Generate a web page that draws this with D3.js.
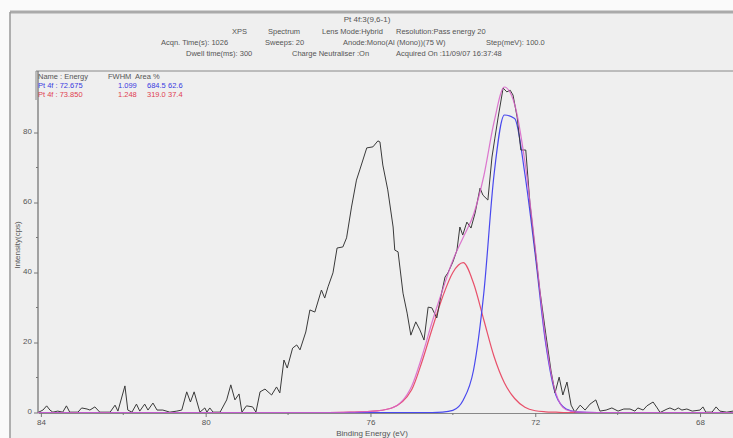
<!DOCTYPE html>
<html>
<head>
<meta charset="utf-8">
<script src="https://cdn.jsdelivr.net/npm/d3@7"></script>
<style>
  body { margin: 0; background: #fafafa; }
  text { font-family: "Liberation Sans", "DejaVu Sans", sans-serif; fill: #555; }
</style>
</head>
<body>
<div id="xps-plot"></div>
<script>
// measured spectrum (binding energy in eV, counts)
const spectrumEnergy = [84.07, 83.95, 83.86, 83.78, 83.71, 83.59, 83.47, 83.38, 83.30, 83.10,
  83.01, 82.88, 82.81, 82.69, 82.57, 82.32, 82.20, 82.13, 81.96, 81.89,
  81.79, 81.68, 81.60, 81.48, 81.40, 81.28, 81.18, 81.04, 80.87, 80.70,
  80.58, 80.46, 80.37, 80.28, 80.14, 80.02, 79.97, 79.90, 79.82, 79.65,
  79.49, 79.39, 79.29, 79.19, 79.12, 79.01, 78.86, 78.78, 78.68, 78.56,
  78.40, 78.28, 78.20, 78.10, 78.02, 77.89, 77.79, 77.71, 77.57, 77.47,
  77.35, 77.19, 77.11, 77.03, 76.91, 76.81, 76.67, 76.58, 76.46, 76.34,
  76.26, 76.09, 75.94, 75.82, 75.77, 75.70, 75.58, 75.45, 75.41, 75.33,
  75.21, 75.11, 75.02, 74.90, 74.80, 74.70, 74.60, 74.51, 74.39, 74.31,
  74.19, 74.12, 74.00, 73.90, 73.83, 73.76, 73.66, 73.56, 73.46, 73.34,
  73.27, 73.15, 73.05, 72.98, 72.90, 72.78, 72.69, 72.61, 72.54, 72.44,
  72.35, 72.23, 72.13, 72.01, 71.89, 71.74, 71.62, 71.52, 71.42, 71.33,
  71.23, 71.13, 71.04, 70.91, 70.79, 70.67, 70.53, 70.43, 70.28, 70.14,
  69.99, 69.85, 69.70, 69.58, 69.51, 69.38, 69.29, 69.14, 69.04, 68.97,
  68.80, 68.73, 68.61, 68.53, 68.44, 68.32, 68.19, 68.00, 67.93, 67.86,
  67.71, 67.61, 67.52, 67.35, 67.20];
const spectrumCounts = [0, 0.7, 1.9, 0.7, 0.1, 0.4, 0.1, 1.9, 0.1, 0.1,
  1.3, 1.0, 0.7, 1.6, 0.1, 0.1, 2.1, 0.4, 7.6, 0.7,
  0.1, 2.4, 0.4, 2.4, 0.7, 2.7, 0.7, 0.7, 0.1, 0.4,
  0.7, 5.9, 3.0, 5.9, 0.1, 1.3, 0.1, 1.3, 0.1, 0.1,
  3.6, 7.9, 3.6, 5.3, 0.1, 1.9, 1.6, 0.1, 5.9, 6.7,
  5.0, 7.3, 5.6, 15.0, 12.7, 18.4, 19.3, 17.9, 23.0, 29.3,
  28.7, 35.0, 32.7, 35.9, 39.9, 47.0, 47.3, 49.9, 58.7, 66.4,
  69.3, 75.6, 75.9, 77.6, 77.3, 70.7, 63.6, 53.0, 46.4, 45.9,
  34.1, 28.4, 22.1, 25.9, 23.6, 20.7, 30.1, 29.9, 27.0, 32.1,
  38.7, 39.9, 43.0, 46.4, 53.0, 50.7, 54.4, 52.7, 57.0, 64.1,
  62.1, 60.7, 73.0, 78.4, 84.4, 92.7, 91.6, 92.1, 90.7, 84.4,
  75.0, 75.0, 59.9, 47.3, 35.0, 22.1, 12.1, 5.6, 10.1, 5.0,
  8.7, 2.1, 0.1, 2.1, 0.7, 2.4, 3.6, 0.4, 0.7, 1.3,
  0.4, 1.0, 1.0, 0.4, 1.3, 0.7, 1.9, 3.0, 1.3, 0,
  1.0, 1.3, 0.7, 1.3, 0.7, 1.0, 0.4, 0.7, 1.6, 0.1,
  0.1, 1.6, 0.4, 0.1, 0.4];

// fitted components, read on one energy grid
const fitEnergy = [84.07, 78, 77, 76.5, 76, 75.5, 75, 74.75, 74.5, 74.25, 74, 73.75, 73.5, 73.25,
  73, 72.75, 72.5, 72.25, 72, 71.75, 71.5, 71.25, 71, 70.5, 67.2];
const peakBlue = [0, 0, 0, 0, 0, 0, 0, 0, 0, 0.1, 0.6, 3.5, 12, 34,
  68, 85, 84, 68, 45, 20, 5, 1, 0.2, 0, 0];
const peakRed = [0, 0, 0, 0.1, 0.3, 1.2, 6.5, 14.5, 24, 33, 40, 42.8, 37, 26.5,
  16, 8.5, 4, 1.5, 0.5, 0.2, 0.1, 0, 0, 0, 0];
const envelope = [0, 0, 0, 0.1, 0.3, 1.2, 7.5, 16, 26, 35, 43.5, 50, 56.5, 67.5,
  83, 93, 88, 71.5, 47, 21, 5.5, 0.8, 0.2, 0, 0];

const xTicks = [84, 80, 76, 72, 68];
const xMinor = [82, 78, 74, 70];
const yTicks = [0, 20, 40, 60, 80];
const yMinor = [10, 30, 50, 70];

const titleLine = "Pt 4f:3(9,6-1)";
const legendHeader = ["Name : Energy", "FWHM", "Area", "%"];
const legendBlue = ["Pt 4f : 72.675", "1.099", "684.5", "62.6"];
const legendRed = ["Pt 4f : 73.850", "1.248", "319.0", "37.4"];

function drawPlot(elementId) {
  const W = 733, H = 438;
  const svg = d3.select("#" + elementId).append("svg")
    .attr("width", W).attr("height", H);

  // window frame
  svg.append("rect").attr("x", 10).attr("y", 12).attr("width", W - 10).attr("height", H - 12)
    .attr("fill", "#efefef");
  svg.append("line").attr("x1", 10).attr("x2", W).attr("y1", 12).attr("y2", 12)
    .attr("stroke", "#aaa").attr("stroke-width", 3);
  svg.append("line").attr("x1", 10).attr("x2", 10).attr("y1", 12).attr("y2", H)
    .attr("stroke", "#999").attr("stroke-width", 1.5);
  svg.append("line").attr("x1", 36).attr("x2", W).attr("y1", 71).attr("y2", 71)
    .attr("stroke", "#888").attr("stroke-width", 1);
  svg.append("line").attr("x1", 36).attr("x2", 36).attr("y1", 71).attr("y2", 100)
    .attr("stroke", "#888").attr("stroke-width", 1);

  // header text
  svg.append("text").attr("x", 367).attr("y", 22).attr("text-anchor", "middle")
    .style("font-size", "8px").text(titleLine);
  const header = [
    ["XPS", 232, 34], ["Spectrum", 268, 34], ["Lens Mode:Hybrid", 322, 34], ["Resolution:Pass energy 20", 396, 34],
    ["Acqn. Time(s): 1026", 161, 45], ["Sweeps: 20", 265, 45], ["Anode:Mono(Al (Mono))(75 W)", 343, 45], ["Step(meV): 100.0", 486, 45],
    ["Dwell time(ms): 300", 186, 56], ["Charge Neutraliser :On", 292, 56], ["Acquired On :11/09/07 16:37:48", 396, 56]
  ];
  svg.append("g").selectAll("text").data(header).join("text")
    .attr("x", d => d[1]).attr("y", d => d[2])
    .style("font-size", "7.5px")
    .text(d => d[0]);

  // scales
  const x = d3.scaleLinear().domain([84.07, 67.2]).range([38, 733]);
  const y = d3.scaleLinear().domain([0, 80]).range([412.5, 132.5]);

  // axes
  const xAxis = svg.append("g").attr("transform", "translate(0,413)")
    .call(d3.axisBottom(x).tickValues(xTicks).tickSize(4).tickPadding(2).tickSizeOuter(0).tickFormat(d3.format("d")));
  xAxis.append("g").selectAll("line").data(xMinor).join("line")
    .attr("x1", d => x(d)).attr("x2", d => x(d)).attr("y1", 0).attr("y2", 2)
    .attr("stroke", "#777");
  xAxis.select(".domain").attr("stroke", "#888");
  xAxis.selectAll(".tick line").attr("stroke", "#777");
  xAxis.selectAll(".tick text").attr("fill", "#555").style("font-size", "8px")
    .attr("font-family", "Liberation Sans");

  const yAxis = svg.append("g").attr("transform", "translate(38,0)")
    .call(d3.axisLeft(y).tickValues(yTicks).tickSize(4).tickSizeOuter(0));
  yAxis.select(".domain").attr("d", "M0," + 71 + "V413").attr("stroke", "#777").attr("stroke-width", 1.3);
  yAxis.selectAll(".tick line").attr("stroke", "#777");
  yAxis.selectAll(".tick text").attr("fill", "#555").style("font-size", "8px")
    .attr("font-family", "Liberation Sans").attr("x", -6).attr("dy", "0.1em");
  yAxis.append("g").selectAll("line").data(yMinor).join("line")
    .attr("x1", 0).attr("x2", -2).attr("y1", d => y(d)).attr("y2", d => y(d))
    .attr("stroke", "#777");

  svg.append("text").attr("x", 372).attr("y", 436).attr("text-anchor", "middle")
    .style("font-size", "8px").text("Binding Energy (eV)");
  svg.append("text").attr("transform", "translate(20,245) rotate(-90)").attr("text-anchor", "middle")
    .style("font-size", "8px").text("Intensity(cps)");

  // curves
  const line = d3.line().x(d => x(d[0])).y(d => y(d[1]));
  const smooth = d3.line().x(d => x(d[0])).y(d => y(d[1])).curve(d3.curveMonotoneX);

  const spectrum = spectrumEnergy.map((e, i) => [e, spectrumCounts[i]]);
  svg.append("path").datum(fitEnergy.map((e, i) => [e, peakRed[i]]))
    .attr("d", smooth).attr("fill", "none").attr("stroke", "#e8506a").attr("stroke-width", 1.2);
  svg.append("path").datum(fitEnergy.map((e, i) => [e, peakBlue[i]]))
    .attr("d", smooth).attr("fill", "none").attr("stroke", "#4848ee").attr("stroke-width", 1.2);
  svg.append("path").datum(spectrum)
    .attr("d", line).attr("fill", "none").attr("stroke", "#3a3a3a").attr("stroke-width", 1);
  svg.append("path").datum(fitEnergy.map((e, i) => [e, envelope[i]]))
    .attr("d", smooth).attr("fill", "none").attr("stroke", "#d860c8").attr("stroke-width", 1.2)
    .attr("stroke-opacity", 0.85);

  // legend
  const colX = [38, 108, 135, 153];
  const rowX = [38, 118, 147, 168];
  const rows = [[legendHeader, 79, "#555", colX], [legendBlue, 88, "#3a3ae0", rowX], [legendRed, 97, "#e04050", rowX]];
  rows.forEach(r => {
    svg.append("g").selectAll("text").data(r[0]).join("text")
      .attr("x", (d, i) => r[3][i]).attr("y", r[1])
      .style("font-size", "7.5px").style("fill", r[2])
      .text(d => d);
  });
}

function whenDocumentLoaded(action) {
  if (document.readyState === "loading") {
    document.addEventListener("DOMContentLoaded", action);
  } else {
    action();
  }
}

whenDocumentLoaded(() => drawPlot("xps-plot"));
</script>
</body>
</html>
